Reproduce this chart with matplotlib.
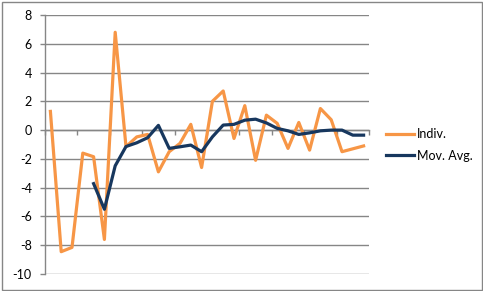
#!/usr/bin/env python3

import numpy as np
import matplotlib
matplotlib.use("Agg")
import matplotlib.pyplot as plt
from matplotlib.patches import Rectangle

# values (30 periods)
indiv = [1.3, -8.45, -8.15, -1.6, -1.85, -7.6, 6.8, -1.15, -0.47, -0.3,
         -2.9, -1.5, -0.92, 0.4, -2.6, 2.0, 2.72, -0.58, 1.7, -2.1,
         1.04, 0.47, -1.27, 0.53, -1.39, 1.5, 0.72, -1.5, -1.3, -1.1]

# 5-period moving average, starts at the 5th period
mov_avg_start = 4
mov_avg = [-3.72, -5.5, -2.48, -1.14, -0.88, -0.53, 0.33, -1.27, -1.16, -1.04,
           -1.5, -0.47, 0.35, 0.4, 0.69, 0.76, 0.5, 0.12, -0.05, -0.3,
           -0.19, -0.05, 0.0, 0.0, -0.35, -0.35]

y_ticks = list(range(-10, 9, 2))

ORANGE = "#F79646"
NAVY = "#17375E"
GRID = "#868686"

plt.rcParams["font.family"] = ["Lato", "DejaVu Sans"]


def main():
    W, H = 483, 291
    fig = plt.figure(figsize=(W / 100, H / 100), dpi=100)
    ax = fig.add_axes([45 / W, (H - 274) / H, (369 - 45) / W, (274 - 15) / H])

    n = len(indiv)
    x = np.arange(n) + 0.5
    x_ma = x[mov_avg_start:mov_avg_start + len(mov_avg)]

    l1, = ax.plot(x, indiv, color=ORANGE, lw=2.3, solid_joinstyle="round",
                  label="Indiv.", zorder=3)
    l2, = ax.plot(x_ma, mov_avg, color=NAVY, lw=2.3, solid_joinstyle="round",
                  label="Mov. Avg.", zorder=4)

    ax.set_xlim(0, n)
    ax.set_ylim(-10, 8)
    ax.set_yticks(y_ticks)
    ax.set_yticklabels([str(v) for v in y_ticks])
    ax.yaxis.grid(True, color=GRID, lw=1)
    ax.set_axisbelow(True)

    # category axis crosses at zero, tick marks every 3 categories
    ax.set_xticks(np.arange(0, n + 1, 3))
    ax.set_xticklabels([])
    ax.spines["bottom"].set_position(("data", 0))
    for s in ["top", "right"]:
        ax.spines[s].set_visible(False)
    for s in ["left", "bottom"]:
        ax.spines[s].set_color(GRID)
        ax.spines[s].set_linewidth(1)
    ax.tick_params(axis="x", direction="out", length=3.5, color=GRID, width=1)
    ax.tick_params(axis="y", direction="out", length=3.5, color=GRID, width=1,
                   pad=6, labelsize=9, labelcolor="#000000")

    fig.legend(handles=[l1, l2], loc="center left", frameon=False,
               bbox_to_anchor=(386 / W, 1 - 145 / H), borderpad=0,
               borderaxespad=0, handlelength=2.2, handletextpad=0.3,
               labelspacing=0.75, fontsize=9)

    # chart area border
    fig.add_artist(Rectangle((1.5 / W, 1.5 / H), (W - 3) / W, (H - 3) / H,
                             transform=fig.transFigure, fill=False,
                             edgecolor=GRID, lw=1))

    fig.savefig("out.png", dpi=100)


if __name__ == "__main__":
    main()
